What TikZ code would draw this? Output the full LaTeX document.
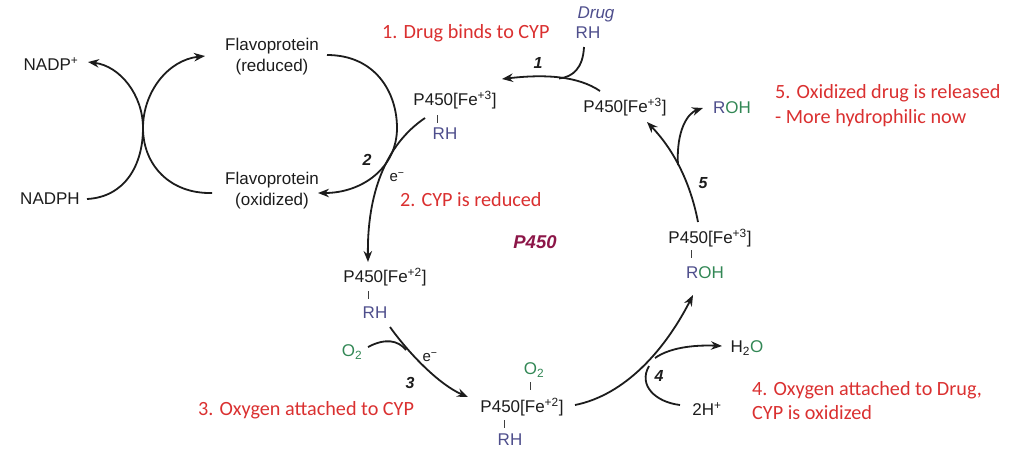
\documentclass[tikz,border=0pt]{standalone}
\usepackage{fontspec}
\setmainfont{Liberation Sans}
\newfontfamily\calib{Carlito}
\usetikzlibrary{arrows.meta}
\definecolor{redtxt}{RGB}{218,48,48}
\definecolor{rhcol}{RGB}{78,78,140}
\definecolor{ocol}{RGB}{50,135,85}
\definecolor{pcol}{RGB}{140,22,72}
\definecolor{inkc}{RGB}{28,28,28}
\begin{document}
\begin{tikzpicture}[x=1pt,y=-1pt,
  lbl/.style={inner sep=0pt, font=\fontsize{17}{21}\selectfont, text=inkc},
  small/.style={inner sep=0pt, font=\fontsize{15}{17}\selectfont, text=inkc},
  note/.style={inner sep=0pt, anchor=west, align=left, font=\calib\fontsize{20.2}{24}\selectfont, text=redtxt},
  num/.style={inner sep=0pt, font=\fontsize{16}{18}\selectfont\bfseries\itshape, text=inkc},
  rx/.style={line width=1.8pt, draw=inkc, -{Stealth[length=11pt,width=8.5pt]}},
  rxl/.style={line width=1.8pt, draw=inkc},
  bond/.style={line width=0.9pt, draw=inkc!85}]
\useasboundingbox (0,0) rectangle (1026,456);

% ---------- flavoprotein / NADPH ----------
\node[lbl] (nadpp) at (51,64) {NADP\textsuperscript{+}};
\node[lbl] (nadph) at (50,199) {NADPH};
\node[lbl,align=center] (fred) at (272,57) {Flavoprotein\\(reduced)};
\node[lbl,align=center] (fox) at (272,191) {Flavoprotein\\(oxidized)};
\coordinate (touch) at (143,128);
\coordinate (nadphS) at (87,199);
\coordinate (fredT) at (205,56);
\coordinate (foxS) at (212,193);
\coordinate (nadppT) at (88,62);
\draw[rx] (nadphS) .. controls (125,197) and (143,165) .. (touch)
   .. controls (143,92) and (168,60) .. (fredT);
\draw[rx] (foxS) .. controls (170,194) and (143,165) .. (touch)
   .. controls (143,95) and (120,66) .. (nadppT);
\coordinate (fredS) at (327,55);
\coordinate (foxT) at (318,193);
\draw[rx] (fredS) .. controls (375,55) and (397,92) .. (397,128)
   .. controls (397,168) and (362,193) .. (foxT);
\node[num] (n2lab) at (367,160) {2};
\node[small] (e1) at (397,177) {e\textsuperscript{−}};

% ---------- P450 cycle species ----------
\node[lbl] (p3a) at (455,100) {P450[Fe\textsuperscript{+3}]};
\node[lbl,text=rhcol] (rha) at (445,134) {RH};
\draw[bond] (437,115) -- (437,123);

\node[lbl] (p3b) at (625,107) {P450[Fe\textsuperscript{+3}]};
\node[lbl] (roht) at (732,108) {\textcolor{rhcol}{R}\textcolor{ocol}{OH}};
\node[lbl,font=\fontsize{17}{21}\selectfont\itshape,text=rhcol] (drug) at (596,14) {Drug};
\node[lbl,text=rhcol] (rhd) at (588,33) {RH};

\node[lbl] (p3c) at (710,238) {P450[Fe\textsuperscript{+3}]};
\draw[bond] (691,250) -- (691,258);
\node[lbl] (rohc) at (705,273) {\textcolor{rhcol}{R}\textcolor{ocol}{OH}};

\node[lbl] (p2a) at (385,277) {P450[Fe\textsuperscript{+2}]};
\draw[bond] (368,291) -- (368,299);
\node[lbl,text=rhcol] (rhb) at (375,313) {RH};

\node[lbl,text=ocol] (o2a) at (352,352) {O\textsubscript{2}};
\node[lbl,text=ocol] (o2b) at (534,370) {O\textsubscript{2}};
\draw[bond] (530,382) -- (530,390);
\node[lbl] (p2b) at (522,407) {P450[Fe\textsuperscript{+2}]};
\draw[bond] (504,420) -- (504,428);
\node[lbl,text=rhcol] (rhc) at (510,440) {RH};

\node[lbl] (h2o) at (747,348) {H\textsubscript{2}\textcolor{ocol}{O}};
\node[lbl] (hplus) at (707,409) {2H\textsuperscript{+}};

\node[inner sep=0pt,font=\fontsize{18.5}{20}\selectfont\bfseries\itshape,text=pcol] (core) at (535,242) {P450};

% ---------- step 1 ----------
\coordinate (s1S) at (600,91);
\coordinate (s1T) at (502,79);
\coordinate (s1M) at (559,78.5);
\coordinate (drugS) at (584,47);
\draw[rx] (s1S) .. controls (578,76) and (545,74) .. (s1T);
\draw[rxl] (drugS) .. controls (583,68) and (573,77) .. (s1M);
\node[num] (n1lab) at (538,63) {1};

% ---------- step 2 ----------
\coordinate (s2S) at (425,118);
\coordinate (s2T) at (368,262);
\draw[rx] (s2S) .. controls (385,145) and (367,195) .. (s2T);

% ---------- step 3 ----------
\coordinate (s3S) at (390,327);
\coordinate (s3T) at (468,397);
\coordinate (s3M) at (406,350);
\coordinate (o2S) at (368,347);
\draw[rx] (s3S) .. controls (410,355) and (440,385) .. (s3T);
\draw[rxl] (o2S) .. controls (385,338) and (398,340) .. (s3M);
\node[small] (e2) at (430,357) {e\textsuperscript{−}};
\node[num] (n3lab) at (410,383) {3};

% ---------- step 4 ----------
\coordinate (s4S) at (575,405);
\coordinate (s4T) at (693,295);
\coordinate (s4M) at (655,358);
\coordinate (h2oT) at (722,346);
\coordinate (hpS) at (680,405);
\coordinate (hpM) at (649,366);
\draw[rx] (s4S) .. controls (625,395) and (665,350) .. (s4T);
\draw[rx] (s4M) .. controls (672,346) and (700,345) .. (h2oT);
\draw[rxl] (hpS) .. controls (655,402) and (638,385) .. (hpM);
\node[num] (n4lab) at (659,376) {4};

% ---------- step 5 ----------
\coordinate (s5S) at (698,222);
\coordinate (s5T) at (647,122);
\coordinate (s5M) at (678,165);
\coordinate (rohT) at (703,108);
\draw[rx] (s5S) .. controls (690,180) and (672,148) .. (s5T);
\draw[rx] (s5M) .. controls (676,130) and (688,113) .. (rohT);
\node[num] (n5lab) at (703,183) {5};

% ---------- red notes ----------
\node[note] (note1) at (382,33) {1. Drug binds to CYP};
\node[note] (note2) at (400,200) {2. CYP is reduced};
\node[note] (note3) at (198,410) {3. Oxygen attached to CYP};
\node[note] (note4) at (752,401) {4. Oxygen attached to Drug,\\CYP is oxidized};
\node[note,font=\calib\fontsize{20.2}{25}\selectfont] (note5) at (775,105.5) {5. Oxidized drug is released\\- More hydrophilic now};
\end{tikzpicture}
\end{document}
